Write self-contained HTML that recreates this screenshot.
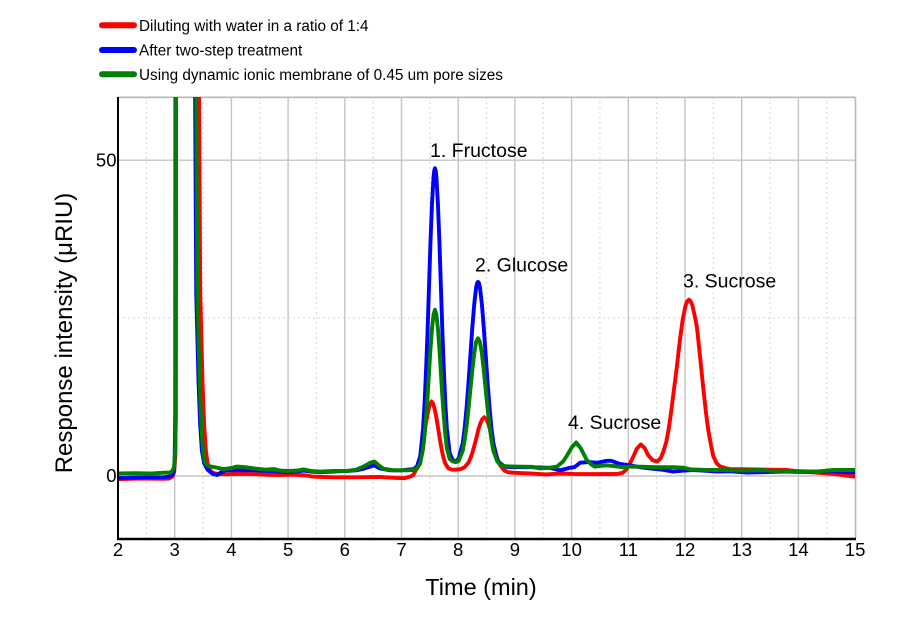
<!DOCTYPE html>
<html>
<head>
<meta charset="utf-8">
<style>
  html, body { margin: 0; padding: 0; background: #ffffff; }
  svg { display: block; font-family: "Liberation Sans", Arial, sans-serif; }
</style>
</head>
<body>
<svg width="900" height="629" viewBox="0 0 900 629" xmlns="http://www.w3.org/2000/svg">
  <defs>
    <clipPath id="plotclip" clipPathUnits="userSpaceOnUse">
      <rect x="118" y="97" width="737" height="442"/>
    </clipPath>
  </defs>
  <rect width="900" height="629" fill="#ffffff"/>

  <!-- Legend -->
  <g stroke-linecap="round" stroke-width="6">
    <line x1="102" y1="25.3" x2="134" y2="25.3" stroke="#ff0000"/>
    <line x1="102" y1="50" x2="134" y2="50" stroke="#0000ff"/>
    <line x1="102" y1="74.3" x2="134" y2="74.3" stroke="#008000"/>
  </g>
  <g font-size="15.3" fill="#000">
    <text x="139" y="31">Diluting with water in a ratio of 1:4</text>
    <text x="139" y="55.5">After two-step treatment</text>
    <text x="139" y="80">Using dynamic ionic membrane of 0.45 um pore sizes</text>
  </g>

  <!-- Minor dotted vertical grid -->
  <g stroke="#d6d6d6" stroke-width="1" stroke-dasharray="2,3">
    <line x1="146.35" y1="97" x2="146.35" y2="539"/>
    <line x1="203.05" y1="97" x2="203.05" y2="539"/>
    <line x1="259.75" y1="97" x2="259.75" y2="539"/>
    <line x1="316.45" y1="97" x2="316.45" y2="539"/>
    <line x1="373.15" y1="97" x2="373.15" y2="539"/>
    <line x1="429.85" y1="97" x2="429.85" y2="539"/>
    <line x1="486.55" y1="97" x2="486.55" y2="539"/>
    <line x1="543.25" y1="97" x2="543.25" y2="539"/>
    <line x1="599.95" y1="97" x2="599.95" y2="539"/>
    <line x1="656.65" y1="97" x2="656.65" y2="539"/>
    <line x1="713.35" y1="97" x2="713.35" y2="539"/>
    <line x1="770.05" y1="97" x2="770.05" y2="539"/>
    <line x1="826.75" y1="97" x2="826.75" y2="539"/>
    <line x1="118" y1="318" x2="855" y2="318"/>
  </g>
  <!-- Major vertical grid -->
  <g stroke="#c4c4c4" stroke-width="1.4">
    <line x1="174.7" y1="97" x2="174.7" y2="539"/>
    <line x1="231.4" y1="97" x2="231.4" y2="539"/>
    <line x1="288.1" y1="97" x2="288.1" y2="539"/>
    <line x1="344.8" y1="97" x2="344.8" y2="539"/>
    <line x1="401.5" y1="97" x2="401.5" y2="539"/>
    <line x1="458.2" y1="97" x2="458.2" y2="539"/>
    <line x1="514.9" y1="97" x2="514.9" y2="539"/>
    <line x1="571.6" y1="97" x2="571.6" y2="539"/>
    <line x1="628.3" y1="97" x2="628.3" y2="539"/>
    <line x1="685" y1="97" x2="685" y2="539"/>
    <line x1="741.7" y1="97" x2="741.7" y2="539"/>
    <line x1="798.4" y1="97" x2="798.4" y2="539"/>
    <line x1="118" y1="160.2" x2="855" y2="160.2"/>
    <line x1="118" y1="476" x2="855" y2="476"/>
  </g>
  <!-- Top & right frame -->
  <g stroke="#b8b8b8" stroke-width="1.6" fill="none">
    <line x1="118" y1="97.3" x2="855.5" y2="97.3"/>
    <line x1="855.5" y1="97.3" x2="855.5" y2="539"/>
  </g>

  <!-- Series -->
  <g clip-path="url(#plotclip)">
    <g transform="matrix(56.7 0 0 -6.32 4.6 476)" fill="none" stroke-width="3.9" stroke-linejoin="round" stroke-linecap="round">
      <polyline vector-effect="non-scaling-stroke" stroke="#ff0000" points="2,-0.5 2.4,-0.4 2.8,-0.45 2.9,-0.4 2.96,-0.1 2.99,0.6 3.01,3 3.02,10 3.025,80 3.42,80 3.43,60 3.45,29 3.49,15 3.52,8 3.55,4 3.58,2 3.63,0.8 3.7,0.4 3.8,0.3 3.92,0.27 4.1,0.35 4.4,0.3 4.6,0.2 4.86,0.15 5.1,0.2 5.3,0.1 5.45,-0.1 5.8,-0.2 6.2,-0.2 6.6,-0.15 6.9,-0.3 7.05,-0.35 7.15,-0.1 7.2,0.1 7.23,0.5 7.29,1.6 7.32,2.5 7.35,3.8 7.38,5.4 7.41,7.1 7.44,8.8 7.47,10.3 7.5,11.3 7.53,11.8 7.56,11.4 7.59,10.4 7.62,9 7.65,7.3 7.68,5.6 7.71,4.1 7.74,2.9 7.77,2 7.83,1.2 7.89,1 7.96,1 8.04,1.1 8.11,1.36 8.18,2.1 8.215,2.8 8.25,3.7 8.285,4.8 8.32,6 8.355,7.3 8.39,8.3 8.425,9 8.46,9.3 8.495,9 8.53,8.3 8.565,7.2 8.6,5.9 8.635,4.6 8.67,3.4 8.705,2.4 8.74,1.7 8.81,0.9 8.88,0.6 9,0.5 9.27,0.4 9.56,0.25 9.8,0.4 10.03,0.32 10.5,0.3 10.8,0.32 10.9,0.5 10.97,1.06 11.03,2 11.09,3.1 11.15,4.3 11.22,5 11.29,4.4 11.35,3.3 11.43,2.5 11.51,2.3 11.57,2.8 11.62,3.9 11.67,5.4 11.71,7.3 11.75,9.8 11.79,12.6 11.85,16.8 11.91,21.5 11.96,24.8 12.01,27 12.04,27.65 12.07,27.9 12.1,27.65 12.13,27 12.17,25.4 12.21,23.6 12.27,18.5 12.32,14.1 12.37,10 12.41,7.3 12.46,4.8 12.5,3.1 12.56,2 12.62,1.5 12.73,1.2 12.79,1.1 13.15,1.05 13.5,1 13.79,0.95 14.03,0.7 14.3,0.55 14.62,0.32 15,-0.1"/>
      <polyline vector-effect="non-scaling-stroke" stroke="#0000ff" points="2,-0.3 2.5,-0.2 2.8,-0.2 2.9,-0.1 2.96,0.2 2.99,1 3,3 3.01,10 3.015,80 3.35,80 3.36,60 3.38,29 3.42,15 3.45,8 3.48,4 3.52,2 3.58,1 3.66,0.4 3.75,0.15 3.82,0.6 3.9,0.9 4,0.9 4.2,0.95 4.4,0.9 4.6,0.8 4.86,0.7 5,0.6 5.27,0.85 5.4,0.7 5.57,0.6 5.8,0.7 6.04,0.8 6.2,0.9 6.35,1.2 6.52,1.7 6.62,1.2 6.8,0.9 7,0.9 7.1,1 7.22,1.1 7.275,1.55 7.33,3.1 7.38,7.45 7.406,11.3 7.432,16.5 7.459,22.8 7.485,29.9 7.511,37 7.538,43.1 7.564,47.2 7.577,48.3 7.59,48.7 7.603,48.3 7.616,47.2 7.642,43.1 7.669,37 7.695,29.9 7.721,22.8 7.748,16.5 7.774,11.3 7.8,7.45 7.85,3.6 7.905,2.5 7.96,2.3 8.01,2.8 8.08,5.2 8.114,7.6 8.148,10.8 8.181,14.7 8.215,19.1 8.249,23.5 8.283,27.2 8.316,29.8 8.333,30.5 8.35,30.7 8.367,30.5 8.384,29.8 8.418,27.2 8.451,23.5 8.485,19.1 8.519,14.7 8.553,10.8 8.586,7.6 8.62,5.2 8.69,2.5 8.755,1.9 8.82,1.5 8.9,1.4 9.3,1.4 9.6,1.3 9.8,0.9 9.97,1.3 10.05,1.4 10.15,2.1 10.3,2.2 10.45,2.1 10.62,2.4 10.7,2.4 10.85,1.9 11.03,1.7 11.2,1.4 11.38,1.2 11.6,1 11.79,0.7 11.95,0.85 12.15,0.95 12.35,0.85 12.56,0.7 12.8,0.75 13.09,0.55 13.4,0.6 13.73,0.7 14,0.65 14.32,0.7 14.6,0.75 15,0.55"/>
      <polyline vector-effect="non-scaling-stroke" stroke="#008000" points="2,0.4 2.3,0.45 2.6,0.4 2.85,0.55 2.9,0.5 2.96,0.8 2.99,1.5 3.01,4 3.02,10 3.025,80 3.37,80 3.38,60 3.4,29 3.44,15 3.47,8 3.5,4 3.53,2.3 3.58,1.6 3.7,1.4 3.85,1.1 4,1.25 4.1,1.5 4.25,1.4 4.4,1.2 4.6,1 4.75,1.1 4.86,0.85 5,0.8 5.15,0.85 5.27,1.05 5.4,0.8 5.57,0.7 5.8,0.8 6.04,0.8 6.2,1 6.33,1.5 6.45,2.1 6.52,2.3 6.6,1.7 6.68,1.15 6.86,0.9 7,0.9 7.1,0.9 7.22,0.96 7.275,1.18 7.33,2 7.38,4.3 7.406,6.4 7.432,9.2 7.459,12.5 7.485,16.3 7.511,20.1 7.538,23.3 7.564,25.5 7.59,26.3 7.616,25.5 7.642,23.3 7.669,20.1 7.695,16.3 7.721,12.5 7.748,9.2 7.774,6.4 7.8,4.4 7.85,2.7 7.905,2.3 7.96,2.2 8.01,2.4 8.08,4 8.114,5.7 8.148,7.9 8.181,10.6 8.215,13.7 8.249,16.7 8.283,19.4 8.316,21.2 8.35,21.8 8.384,21.2 8.418,19.4 8.451,16.7 8.485,13.7 8.519,10.6 8.553,7.9 8.586,5.7 8.62,4 8.69,2.3 8.755,1.7 8.82,1.55 9,1.5 9.3,1.45 9.44,1.2 9.6,1.3 9.74,1.47 9.85,2.3 9.91,3.1 10,4.5 10.08,5.3 10.16,4.4 10.27,2.5 10.35,1.8 10.41,1.47 10.5,1.6 10.62,1.7 10.91,1.4 11.03,1.5 11.21,1.47 11.5,1.4 11.79,1.4 11.97,1.32 12.09,1.06 12.38,0.95 12.65,0.95 12.97,0.85 13.32,0.95 13.73,0.7 14,0.75 14.32,0.7 14.62,0.95 15,0.95"/>
    </g>
  </g>

  <!-- Axes -->
  <line x1="118" y1="97" x2="118" y2="540" stroke="#000" stroke-width="2"/>
  <line x1="117" y1="539" x2="856" y2="539" stroke="#000" stroke-width="2.4"/>

  <!-- X tick labels -->
  <g font-size="18.5" fill="#000" text-anchor="middle">
    <text x="118" y="556">2</text>
    <text x="174.7" y="556">3</text>
    <text x="231.4" y="556">4</text>
    <text x="288.1" y="556">5</text>
    <text x="344.8" y="556">6</text>
    <text x="401.5" y="556">7</text>
    <text x="458.2" y="556">8</text>
    <text x="514.9" y="556">9</text>
    <text x="571.6" y="556">10</text>
    <text x="628.3" y="556">11</text>
    <text x="685" y="556">12</text>
    <text x="741.7" y="556">13</text>
    <text x="798.4" y="556">14</text>
    <text x="855.1" y="556">15</text>
  </g>
  <!-- Y tick labels -->
  <g font-size="18.5" fill="#000" text-anchor="end">
    <text x="116.5" y="166.5">50</text>
    <text x="116.5" y="482">0</text>
  </g>

  <!-- Axis titles -->
  <text x="481" y="595" font-size="23.5" text-anchor="middle" fill="#000">Time (min)</text>
  <text transform="translate(72,333) rotate(-90)" font-size="24" text-anchor="middle" fill="#000">Response intensity (μRIU)</text>

  <!-- Peak annotations -->
  <g font-size="19.5" fill="#000">
    <text x="430" y="157">1. Fructose</text>
    <text x="475" y="271.5">2. Glucose</text>
    <text x="683" y="287.3">3. Sucrose</text>
    <text x="568" y="429">4. Sucrose</text>
  </g>
</svg>
</body>
</html>
